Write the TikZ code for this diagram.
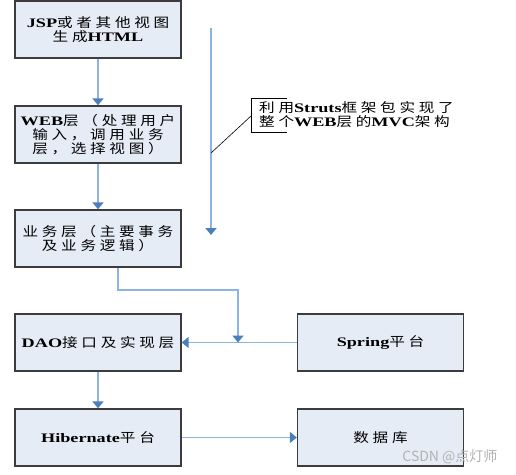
\documentclass[tikz,border=0pt]{standalone}
\usepackage{fontspec}
\usetikzlibrary{arrows.meta}
\setmainfont{Noto Sans CJK SC}[FakeStretch=1.2]
\newfontfamily\enfont{Liberation Serif}[FakeStretch=1.4]
\newfontfamily\markfont{Noto Sans CJK SC}
\newcommand{\en}[1]{{\enfont\bfseries #1}}
% spread the ideographs a little, as in the drawing
\newXeTeXintercharclass\hanzi
\count255="4E00
\loop \XeTeXcharclass\count255=\hanzi
\ifnum\count255<"9FFF \advance\count255 by 1 \repeat
\count255="FF08
\loop \XeTeXcharclass\count255=\hanzi
\ifnum\count255<"FF0C \advance\count255 by 1 \repeat
\newcommand{\cjkgap}{\hskip 3.7pt\relax}
\newcommand{\tight}{\XeTeXinterchartokenstate=0\relax}
\XeTeXinterchartoks\hanzi\hanzi={\cjkgap}
\XeTeXinterchartokenstate=1
\definecolor{boxfill}{HTML}{E6ECF6}
\definecolor{boxline}{HTML}{3C3C3C}
\definecolor{shaft}{HTML}{8DB3E2}
\definecolor{tipblue}{HTML}{4A7EBF}

\begin{document}
\begin{tikzpicture}[x=1pt,y=-1pt,
	layer/.style={draw=boxline, line width=1.4pt, fill=boxfill,
		minimum width=166pt, minimum height=57pt, inner sep=2pt,
		align=center, font=\fontsize{13}{14}\selectfont},
	flow/.style={draw=shaft, line width=1.8pt,
		-{Triangle[length=7pt,width=11pt,color=tipblue]}}]
	\useasboundingbox (0,0) rectangle (516,474);
	
	% left column
	\node[layer] (jsp) at (98, 29.5) {\en{JSP}或者其他视图\\生成\en{HTML}};
	\node[layer] (web) at (98, 134.5) {\en{WEB}层（处理用户\\输入，调用业务\\层，选择视图）};
	\node[layer] (biz) at (98, 238.5) {业务层（主要事务\\及业务逻辑）};
	\node[layer] (dao) at (98, 342.5) {\en{DAO}接口及实现层};
	\node[layer] (hib) at (98, 437.5) {\en{Hibernate}平台};
	
	% right column
	\node[layer] (spring) at (380.5, 342.5) {\en{Spring}平台};
	\node[layer] (db) at (380.5, 437.5) {数据库};
	
	\draw[flow] (jsp) -- (web);
	\draw[flow] (web) -- (biz);
	\draw[flow] (dao) -- (hib);
	\draw[flow] (hib) -- (db);
	\draw[flow] (spring) -- (dao);
	
	% struts span
	\coordinate (top) at (211, 28);
	\coordinate (bot) at (211, 235);
	\coordinate (tap) at (211, 153);
	\draw[flow] (top) -- (bot);
	
	\node[anchor=west, inner sep=0pt, align=left, font=\fontsize{13}{14}\selectfont]
		(note) at (259, 115) {利用\en{Struts}框架包实现了\\整个\en{WEB}层的\en{MVC}架构};
	\draw[line width=1pt] (287, 98) -- (251, 98) -- (251, 132) -- (287, 132);
	\coordinate (notel) at (251, 116);
	\draw[line width=0.6pt] (notel) -- (tap);
	
	% business layer into dao line
	\coordinate (join) at (238, 342.5);
	\draw[flow] (biz.south -| 118, 0) -- (118, 290) -- (238, 290) -- (join);
	
	\node[text=gray!60, font=\markfont\fontsize{14}{15}\selectfont\tight, anchor=east] (mark) at (501, 457) {CSDN @点灯师};
\end{tikzpicture}
\end{document}
